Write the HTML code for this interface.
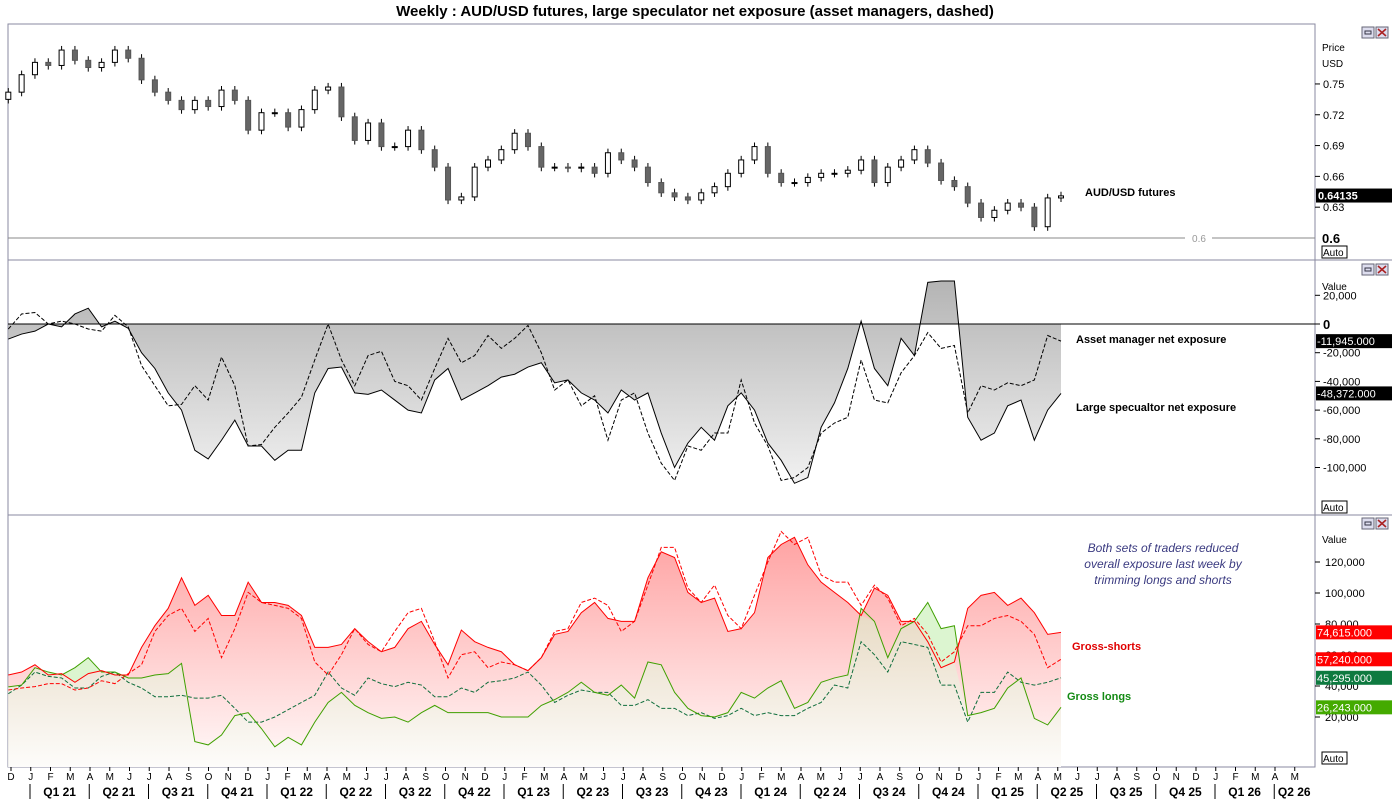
<!DOCTYPE html>
<html><head><meta charset="utf-8"><style>
body{margin:0;background:#fff;font-family:"Liberation Sans",Arial,sans-serif;}
svg text{font-family:"Liberation Sans",Arial,sans-serif;}
</style></head><body>
<svg id="chart" width="1392" height="801" xmlns="http://www.w3.org/2000/svg">
<defs>
<linearGradient id="gGray" gradientUnits="userSpaceOnUse" x1="0" y1="280" x2="0" y2="500"><stop offset="0" stop-color="#b4b4b4"/><stop offset="1" stop-color="#f6f6f6"/></linearGradient>
<linearGradient id="gRed" gradientUnits="userSpaceOnUse" x1="0" y1="530" x2="0" y2="767"><stop offset="0" stop-color="#ffa0a0"/><stop offset="1" stop-color="#fffafa"/></linearGradient>
<linearGradient id="gTan" gradientUnits="userSpaceOnUse" x1="0" y1="600" x2="0" y2="767"><stop offset="0" stop-color="#e6d8c0"/><stop offset="1" stop-color="#fdfcfa"/></linearGradient>
</defs>
<text x="695" y="16" text-anchor="middle" font-size="15" font-weight="bold">Weekly : AUD/USD futures, large speculator net exposure (asset managers, dashed)</text>
<g id="frame" stroke="#8a8aa0" fill="none">
<rect x="8" y="24" width="1307" height="743"/>
<line x1="8" y1="260" x2="1392" y2="260"/><line x1="8" y1="515" x2="1392" y2="515"/>
<line x1="1315" y1="24" x2="1315" y2="767"/>
</g>
<g id="price"></g>
<g id="net"></g>
<g id="gross"></g>
<g id="xaxis"></g>
<g id="labels">
<text x="1085" y="196" font-size="11" font-weight="bold">AUD/USD futures</text>
<text x="1076" y="343" font-size="11" font-weight="bold">Asset manager net exposure</text>
<text x="1076" y="411" font-size="11" font-weight="bold">Large specualtor net exposure</text>
<text x="1072" y="650" font-size="11" font-weight="bold" fill="#e00000">Gross-shorts</text>
<text x="1067" y="700" font-size="11" font-weight="bold" fill="#138a13">Gross longs</text>
<g font-size="12" font-style="italic" fill="#3a3a80" text-anchor="middle">
<text x="1163" y="552">Both sets of traders reduced</text><text x="1163" y="568">overall exposure last week by</text><text x="1163" y="584">trimming longs and shorts</text></g>
</g>
</svg>
<script>
const NS="http://www.w3.org/2000/svg";
const priceClose=[.742,.759,.771,.768,.783,.773,.766,.771,.783,.775,.754,.742,.734,.725,.734,.728,.744,.734,.705,.722,.722,.708,.725,.744,.747,.718,.695,.712,.689,.689,.705,.686,.669,.637,.640,.669,.676,.686,.702,.689,.669,.669,.668,.669,.663,.683,.676,.669,.654,.644,.640,.637,.644,.650,.663,.676,.689,.663,.654,.654,.659,.663,.663,.666,.676,.654,.669,.676,.686,.673,.656,.650,.634,.620,.627,.634,.630,.611,.639,.641];
const largeSpecNet=[-10.5,-7,-5,0,-2,7,11,-2,2,-3,-20,-31,-48,-60,-88,-94,-81,-67,-85,-85,-95,-88,-88,-48,-31,-30,-48,-49,-46,-53,-60,-62,-39,-31,-53,-48,-43,-37,-35,-30,-27,-41,-39,-48,-53,-62,-46,-53,-48,-76,-100,-83,-72,-81,-57,-48,-60,-83,-95,-111,-107,-72,-55,-31,2,-31,-43,-10,-22,29,30,30,-65,-81,-76,-57,-53,-81,-60,-48.372];
const assetMgrNet=[-3.5,7,8,0,2,0,-3.5,-5,6,-2,-29,-43,-57,-56,-43,-53,-23,-43,-85,-84,-72,-62,-51,-25,0,-25,-43,-22,-19,-40,-43,-53,-31,-10,-27,-22,-8,-17,-10,-1,-20,-46,-39,-57,-50,-81,-53,-48,-76,-97,-109,-85,-88,-76,-76,-39,-69,-85,-109,-107,-100,-76,-69,-65,-25,-53,-55,-34,-22,-6,-17,-15,-62,-43,-46,-41,-43,-39,-8,-11.945];
const shortsLarge=[47.1,49,53.7,47.1,48,42.4,48,49.9,47.1,47.1,64.9,78.9,90.1,109.8,92,98.5,85.5,85.5,107,93.9,93.9,92,85.5,64.9,64.9,66.8,77,68.6,62.1,64.9,77,81.7,66.8,53.7,76.1,68.6,64.9,62.1,53.7,49.9,58.3,73.3,75.2,87.3,93.9,83.6,81.7,81.7,109.8,126.6,122.9,100.4,93.9,96.7,75.2,77,87.3,122.9,131.3,135.9,118.2,107,100.4,93.9,85.5,103.2,98.5,81.7,81.7,68.6,51.8,55.5,90.1,98.5,100.4,92,96.7,87.3,73.3,74.615];
const shortsAsset=[37.4,38.7,39.6,41.5,41.5,37.4,38.7,43.4,41.5,48,53.7,75.2,85.5,90.1,75.2,83.6,58.3,77,100.4,93.9,92,90.1,83.6,55.5,47.1,60.2,77,66.8,62.1,75.2,87.3,90.1,68.6,45.2,60.2,62.1,51.8,55.5,53.7,49.9,58.3,75.2,77,93.9,96.7,92,75.2,81.7,105.1,129.4,129.4,103.2,93.9,105.1,85.5,77,98.5,120,139.7,131.3,135.9,111.6,107,107,92,105.1,96.7,78.9,83.6,73.3,55.5,62.1,78.9,78.9,83.6,85.5,81.7,73.3,51.8,57.24];
const longsLarge=[39.4,40.6,51.8,49,47.1,51.8,58.3,49,49,45.2,45.2,47.1,48,54.6,4.1,2,8.4,20.9,22.8,12.5,0.8,6.9,2,16.7,29.4,35.9,27.5,22.8,19.1,20,16.7,22.8,27.5,22.8,22.8,22.8,22.8,20,20,20,27.5,31.2,35.9,42.4,35.9,34,40.6,32.2,55.5,53.7,35.9,25.6,20.9,20,22.8,35.9,32.2,38.7,43.4,25.6,29.4,42.4,45.2,47.1,90.1,81.7,58.3,77,81.7,93.9,77,78.9,20.9,22.8,25.6,38.7,45.2,19.1,14.9,26.243];
const longsAsset=[35,40.6,49,46.2,45.2,38.7,38.7,46.2,49,42.4,38.7,33.1,33.1,34,32.2,32.2,34,25.6,16.7,16.7,20,24.7,29.4,34,49,38.7,34,45.2,41.5,39.6,42.4,40.6,33.1,33.1,38.7,35.9,42.4,43.4,45.2,49,40.6,29.4,34,37.4,35.9,35.9,27.5,27.5,31.2,25.6,25.6,20.9,22.8,19.1,20.9,25.6,20.9,22.8,20.9,20.9,25.6,29.4,40.6,38.7,68.6,60.2,49,68.6,66.8,64.9,40.6,40.6,16.7,35.9,35.9,49,42.4,40.6,42.4,45.295];
const priceTicks=[0.63,0.66,0.69,0.72,0.75];
const netTicks=[20,-20,-40,-60,-80,-100];
const grossTicks=[20,40,60,80,100,120];
const months=["D","J","F","M","A","M","J","J","A","S","O","N","D"];
const quarters=["Q1 21","Q2 21","Q3 21","Q4 21","Q1 22","Q2 22","Q3 22","Q4 22","Q1 23","Q2 23","Q3 23","Q4 23","Q1 24","Q2 24","Q3 24","Q4 24","Q1 25","Q2 25","Q3 25","Q4 25","Q1 26","Q2 26"];

const N=priceClose.length;
const X=i=>8.3+i*(1061-8.3)/(N-1);
const yP=p=>238-(p-0.6)*1027;
const yN=v=>324-v*1.435;
const yG=v=>717-(v-20)*1.55;
function el(parent,tag,attrs,text){const e=document.createElementNS(NS,tag);for(const k in attrs)e.setAttribute(k,attrs[k]);if(text!==undefined)e.textContent=text;parent.appendChild(e);return e;}
const fmt=v=>v.toLocaleString("en-US");

// price panel
const gp=document.getElementById("price");
let l=el(gp,"line",{x1:8,x2:1185,y1:yP(0.6),y2:yP(0.6),stroke:"#888"});


el(gp,"line",{x1:1212,x2:1315,y1:yP(0.6),y2:yP(0.6),stroke:"#888"});
let t=el(gp,"text",{x:1199,y:yP(0.6)+4,"font-size":10,fill:"#999","text-anchor":"middle"},"0.6");


for(let i=0;i<N;i++){
  const c=priceClose[i],o=i?priceClose[i-1]:0.735;
  const hi=Math.max(o,c)+0.004,lo=Math.min(o,c)-0.004;
  const x=X(i);const up=c>=o;
  const w=el(gp,"line",{x1:x,x2:x,y1:yP(hi),y2:yP(lo),stroke:"#000"});
  
  
  const b=el(gp,"rect",{x:x-2.5,y:yP(Math.max(o,c)),width:5,height:Math.max(1,Math.abs(yP(o)-yP(c))),fill:up?"#fff":"#666",stroke:up?"#000":"#555"});
  
  
}
el(gp,"text",{x:1322,y:51,"font-size":10},"Price");
el(gp,"text",{x:1322,y:67,"font-size":10},"USD");
priceTicks.forEach(v=>{const y=yP(v);el(gp,"line",{x1:1315,x2:1320,y1:y,y2:y,stroke:"#000"});
  const tt=el(gp,"text",{x:1323,y:y+4,"font-size":11},v.toFixed(2));
  
  });
el(gp,"text",{x:1322,y:yP(0.6)+5,"font-size":13,"font-weight":"bold"},"0.6");
el(gp,"rect",{x:1316,y:yP(0.64135)-7,width:76,height:14,fill:"#000"});
el(gp,"text",{x:1318,y:yP(0.64135)+4,"font-size":11,"font-weight":"bold",fill:"#fff"},"0.64135");

function autoBox(g,y,name){const r=el(g,"rect",{x:1322,y:y,width:25,height:12,fill:"#fff",stroke:"#000"});
 
 
 el(g,"text",{x:1323,y:y+10,"font-size":10},"Auto");}
function icons(g,y,name){
 const a=el(g,"rect",{x:1362,y:y,width:12,height:11,fill:"#dde",stroke:"#667"});
 
 
 el(g,"rect",{x:1365,y:y+4,width:6,height:3,fill:"none",stroke:"#334"});
 const b=el(g,"rect",{x:1376,y:y,width:12,height:11,fill:"#dde",stroke:"#667"});
 
 
 el(g,"path",{d:`M1378 ${y+2}L1386 ${y+9}M1386 ${y+2}L1378 ${y+9}`,stroke:"#a22","stroke-width":1.6});}
autoBox(gp,246,"price-auto-scale");icons(gp,27,"price-panel");

// net exposure panel
const gn=document.getElementById("net");
const ptsS=largeSpecNet.map((v,i)=>[X(i),yN(v)]);
let area=el(gn,"path",{d:"M"+X(0)+" "+yN(0)+ptsS.map(p=>"L"+p[0]+" "+p[1]).join("")+"L"+X(N-1)+" "+yN(0)+"Z",fill:"url(#gGray)"});


let z=el(gn,"line",{x1:8,x2:1315,y1:yN(0),y2:yN(0),stroke:"#000"});


let ls=el(gn,"polyline",{points:ptsS.map(p=>p.join(",")).join(" "),fill:"none",stroke:"#000"});


let la=el(gn,"polyline",{points:assetMgrNet.map((v,i)=>X(i)+","+yN(v)).join(" "),fill:"none",stroke:"#000","stroke-dasharray":"4,2"});


el(gn,"text",{x:1322,y:290,"font-size":10},"Value");
netTicks.forEach(v=>{const y=yN(v);el(gn,"line",{x1:1315,x2:1320,y1:y,y2:y,stroke:"#000"});
 const tt=el(gn,"text",{x:1323,y:y+4,"font-size":11},fmt(v*1000));
 
 });
el(gn,"line",{x1:1315,x2:1320,y1:yN(0),y2:yN(0),stroke:"#000"});
el(gn,"text",{x:1323,y:yN(0)+5,"font-size":13,"font-weight":"bold"},"0");
[[assetMgrNet[N-1],"-11,945.000"],[largeSpecNet[N-1],"-48,372.000"]].forEach(([v,s])=>{
 const y=yN(v);el(gn,"rect",{x:1316,y:y-7,width:76,height:14,fill:"#000"});
 el(gn,"text",{x:1317,y:y+4,"font-size":11,fill:"#fff"},s);});
autoBox(gn,501,"net-auto-scale");icons(gn,264,"net-panel");

// gross panel
const gg=document.getElementById("gross");
function areaPath(vals){return "M"+X(0)+" 767"+vals.map((v,i)=>"L"+X(i)+" "+yG(v)).join("")+"L"+X(N-1)+" 767Z";}
let a1=el(gg,"path",{d:areaPath(longsLarge),fill:"#dcf5d0"});


let a2=el(gg,"path",{d:areaPath(shortsLarge),fill:"url(#gRed)"});


let a3=el(gg,"path",{d:areaPath(shortsLarge.map((v,i)=>Math.min(v,longsLarge[i]))),fill:"url(#gTan)"});


function line(vals,color,dash,name){const p=el(gg,"polyline",{points:vals.map((v,i)=>X(i)+","+yG(v)).join(" "),fill:"none",stroke:color});
 if(dash)p.setAttribute("stroke-dasharray","4,2");
 
 }
line(longsAsset,"#0f6e3c",true,"asset-longs-line");
line(shortsAsset,"#ff0000",true,"asset-shorts-line");
line(longsLarge,"#3fa000",false,"large-spec-longs-line");
line(shortsLarge,"#ff0000",false,"large-spec-shorts-line");
el(gg,"text",{x:1322,y:543,"font-size":10},"Value");
grossTicks.forEach(v=>{const y=yG(v);el(gg,"line",{x1:1315,x2:1320,y1:y,y2:y,stroke:"#000"});
 const tt=el(gg,"text",{x:1325,y:y+4,"font-size":11},fmt(v*1000));
 
 });
[[shortsLarge[N-1],"74,615.000","#ff0000"],[shortsAsset[N-1],"57,240.000","#ff0000"],[longsAsset[N-1],"45,295.000","#0e7a40"],[longsLarge[N-1],"26,243.000","#44aa00"]].forEach(([v,s,c])=>{
 const y=yG(v);const r=el(gg,"rect",{x:1316,y:y-7,width:76,height:14,fill:c});
 
 
 el(gg,"text",{x:1317,y:y+4,"font-size":11,fill:"#fff"},s);});
autoBox(gg,752,"gross-auto-scale");icons(gg,518,"gross-panel");

// x axis
const gx=document.getElementById("xaxis");
for(let m=0;m<=66;m++){const x=11+m*19.75;if(x>1305)break;
 el(gx,"line",{x1:x,x2:x,y1:767,y2:771,stroke:"#000"});
 const tt=el(gx,"text",{x:x,y:780,"font-size":10,"text-anchor":"middle"},months[m%12===0?0:(m%12)]);
 
 }
quarters.forEach((q,k)=>{const x=30+k*59.25;
 el(gx,"line",{x1:x,x2:x,y1:784,y2:799,stroke:"#000"});
 const tt=el(gx,"text",{x:x+(k===21?20:29.6),y:796,"font-size":12,"font-weight":"bold","text-anchor":"middle"},q);
 
 });
</script>
</body></html>
